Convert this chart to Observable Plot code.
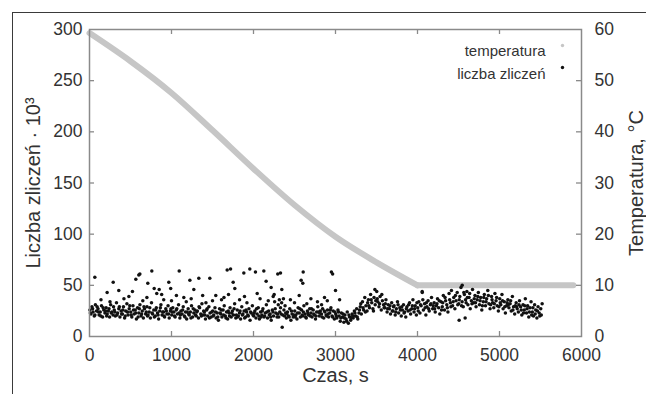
<!DOCTYPE html>
<html>
<head>
<meta charset="utf-8">
<script src="https://cdn.jsdelivr.net/npm/d3@7"></script>
<script src="https://cdn.jsdelivr.net/npm/@observablehq/plot@0.6"></script>
<style>
  html, body { margin: 0; padding: 0; background: #fff; }
  #wrap { position: relative; width: 646px; height: 394px; overflow: hidden; }
  #border { position: absolute; left: 12px; top: 12px; width: 700px; height: 500px;
            border-left: 1.5px solid #3a3a3a; border-top: 1.5px solid #3a3a3a; }
  #chart { position: absolute; left: 0; top: 0; }
  svg { font-family: "Liberation Sans", Arial, sans-serif; overflow: visible; }
</style>
</head>
<body>
<div id="wrap"><div id="border"></div><div id="chart"></div></div>
<script>
// ---- data ----
const xTicks = [0, 1000, 2000, 3000, 4000, 5000, 6000];
const yTicks = [0, 50, 100, 150, 200, 250, 300];
const tempTicks = [0, 10, 20, 30, 40, 50, 60];

// cooling phase, then constant temperature
const czasT = [0, 500, 1000, 1500, 2000, 2500, 3000, 3500, 4000];
const temperatura = [59.3, 53.8, 47.6, 40.3, 32.8, 25.7, 19.5, 14.5, 10];
const czasStala = [4000, 5900];
const temperaturaStala = [10, 10];

// [czas (s), liczba zliczeń (·10^3)]
const zliczenia = [
[5,26],[18,22],[30,29],[44,24],[58,20],[72,31],[86,25],
[104,27],[117,21],[131,24],[146,30],[160,19],[174,26],[188,23],
[203,28],[216,22],[230,25],[245,19],[258,31],[272,24],[287,21],
[302,26],[315,20],[329,33],[343,23],[357,27],[371,19],[385,25],
[401,22],[414,29],[428,18],[442,25],[456,32],[470,21],[484,27],
[503,24],[516,19],[530,30],[544,22],[558,26],[572,17],[586,28],
[602,23],[615,31],[629,20],[643,25],[657,18],[671,27],[685,22],
[701,29],[714,21],[728,24],[742,18],[756,33],[770,22],[784,26],
[802,20],[815,28],[829,23],[843,17],[857,25],[871,31],[885,21],
[903,24],[916,19],[930,27],[944,22],[958,30],[972,18],[986,25],
[1003,21],[1016,28],[1030,24],[1044,19],[1058,26],[1072,22],[1086,31],
[1102,18],[1115,25],[1129,22],[1143,29],[1157,20],[1171,24],[1185,17],
[1203,27],[1216,21],[1230,24],[1244,30],[1258,19],[1272,23],[1286,26],
[1302,20],[1315,25],[1329,18],[1343,28],[1357,22],[1371,32],[1385,21],
[1401,24],[1414,17],[1428,26],[1442,20],[1456,29],[1470,23],[1484,19],
[1503,25],[1516,21],[1530,28],[1544,18],[1558,23],[1572,16],[1586,27],
[1602,22],[1615,19],[1629,26],[1643,30],[1657,20],[1671,24],[1685,17],
[1701,23],[1714,28],[1728,19],[1742,25],[1756,21],[1770,32],[1784,18],
[1802,26],[1815,20],[1829,23],[1843,17],[1857,29],[1871,22],[1885,25],
[1903,19],[1916,24],[1930,21],[1944,27],[1958,16],[1972,23],[1986,30],
[2003,20],[2016,25],[2030,18],[2044,22],[2058,28],[2072,17],[2086,24],
[2102,21],[2115,27],[2129,19],[2143,23],[2157,31],[2171,18],[2185,25],
[2203,22],[2216,16],[2230,26],[2244,20],[2258,34],[2272,23],[2287,19],
[2302,31],[2315,36],[2329,28],[2343,33],[2357,21],[2371,26],[2385,30],[2320,24],[2365,37],
[2401,18],[2414,24],[2428,20],[2442,27],[2456,16],[2470,22],[2484,19],
[2503,25],[2516,21],[2530,17],[2544,28],[2558,23],[2572,19],[2586,26],
[2602,20],[2615,30],[2629,22],[2643,18],[2657,25],[2671,21],[2685,27],
[2701,23],[2714,19],[2728,26],[2742,21],[2756,17],[2770,24],[2784,29],
[2802,20],[2815,25],[2829,22],[2843,27],[2857,18],[2871,24],[2885,21],
[2903,26],[2916,19],[2930,23],[2944,28],[2958,20],[2972,25],[2986,17],
[3003,22],[3016,18],[3030,26],[3044,20],[3058,15],[3072,23],[3086,19],
[3102,14],[3115,21],[3129,17],[3143,24],[3157,13],[3171,19],[3185,16],
[3203,22],[3216,18],[3230,25],[3244,20],[3258,27],[3272,17],[3286,23],
[3302,29],[3315,22],[3329,34],[3343,26],[3357,38],[3371,30],[3385,25],
[3401,36],[3414,28],[3428,41],[3442,33],[3456,27],[3470,38],[3484,31],
[3503,44],[3516,34],[3530,29],[3544,39],[3558,26],[3572,35],[3586,31],
[3602,28],[3615,36],[3629,24],[3643,31],[3657,27],[3671,22],[3685,33],
[3701,25],[3714,30],[3728,21],[3742,27],[3756,34],[3770,23],[3784,28],
[3802,20],[3815,26],[3829,31],[3843,24],[3857,19],[3871,29],[3885,25],
[3903,33],[3916,22],[3930,27],[3944,36],[3958,24],[3972,30],[3986,21],
[4003,28],[4016,34],[4030,23],[4044,30],[4058,43],[4072,26],[4086,32],
[4102,21],[4115,29],[4129,35],[4143,25],[4157,31],[4171,38],[4185,27],
[4203,33],[4216,24],[4230,30],[4244,37],[4258,28],[4272,22],[4287,34],
[4302,29],[4315,40],[4329,26],[4343,35],[4357,31],[4371,24],[4385,42],
[4401,33],[4414,45],[4428,30],[4442,38],[4456,27],[4470,35],[4484,43],
[4503,32],[4516,39],[4530,48],[4544,34],[4558,29],[4572,41],[4586,36],
[4602,44],[4615,31],[4629,38],[4643,27],[4657,35],[4671,46],[4685,33],
[4701,40],[4714,29],[4728,36],[4742,43],[4756,31],[4770,38],[4784,26],
[4802,34],[4815,41],[4829,30],[4843,37],[4857,45],[4871,32],[4885,27],
[4903,39],[4916,33],[4930,28],[4944,42],[4958,35],[4972,30],[4986,25],
[5003,37],[5016,31],[5030,41],[5044,27],[5058,34],[5072,23],[5086,30],
[5102,36],[5115,28],[5129,32],[5143,25],[5157,39],[5171,29],[5185,22],
[5203,33],[5216,27],[5230,24],[5244,35],[5258,29],[5272,21],[5287,31],
[5302,26],[5315,37],[5329,23],[5343,30],[5357,19],[5371,28],[5385,34],
[5401,24],[5414,20],[5428,31],[5442,26],[5456,18],[5470,29],[5484,23],
[5503,27],[5510,21],[5520,32],
[10,23],[38,27],[66,21],[93,29],[110,24],[138,20],[166,28],[195,25],[209,20],[238,27],[265,23],[293,29],[309,24],[336,21],[364,29],[392,22],[407,26],[435,20],[463,24],[491,30],
[509,21],[537,26],[565,23],[593,19],[608,27],[636,22],[664,29],[692,24],[707,20],[735,28],[763,23],[791,19],[808,26],[836,21],[864,28],[892,24],[909,20],[937,25],[965,22],[993,27],
[1009,24],[1037,20],[1065,27],[1093,23],[1108,21],[1136,26],[1164,19],[1192,24],[1209,22],[1237,18],[1265,27],[1293,21],[1308,24],[1336,29],[1364,20],[1392,25],[1407,21],[1435,27],[1463,18],[1491,24],
[1509,20],[1537,24],[1565,19],[1593,23],[1608,26],[1636,21],[1664,18],[1692,25],[1707,20],[1735,23],[1763,27],[1791,21],[1808,19],[1836,25],[1864,21],[1892,18],[1909,26],[1937,20],[1965,24],[1993,21],
[2009,23],[2037,27],[2065,20],[2093,19],[2108,25],[2136,20],[2164,24],[2192,21],[2209,19],[2237,24],[2265,27],[2293,22],[2308,19],[2336,22],[2378,20],[2392,23],[2407,22],[2435,19],[2463,25],[2491,21],
[2509,19],[2537,23],[2565,27],[2593,21],[2608,24],[2636,19],[2664,23],[2692,20],[2707,27],[2735,22],[2763,20],[2791,24],[2808,23],[2836,19],[2864,25],[2892,20],[2909,22],[2937,26],[2965,19],[2993,24],
[3009,20],[3037,24],[3065,18],[3093,22],[3108,18],[3136,15],[3164,21],[3192,18],[3209,20],[3237,23],[3265,19],[3293,26],[3308,32],[3336,28],[3364,24],[3392,33],[3407,30],[3435,36],[3463,25],[3491,35],
[3509,37],[3537,32],[3565,41],[3593,28],[3608,32],[3636,27],[3664,30],[3692,25],[3707,29],[3735,24],[3763,31],[3791,26],[3808,29],[3836,23],[3864,27],[3892,31],[3909,26],[3937,30],[3965,27],[3993,33],
[4009,25],[4037,31],[4065,36],[4093,28],[4108,33],[4136,27],[4164,32],[4192,30],[4209,27],[4237,32],[4265,35],[4293,26],[4308,33],[4336,38],[4364,28],[4392,36],[4407,29],[4435,34],[4463,40],[4491,31],
[4509,36],[4537,30],[4565,43],[4593,33],[4608,38],[4636,42],[4664,32],[4692,37],[4707,33],[4735,39],[4763,35],[4791,30],[4808,38],[4836,34],[4864,40],[4892,31],[4909,36],[4937,32],[4965,38],[4993,29],
[5009,33],[5037,35],[5065,29],[5093,33],[5108,31],[5136,35],[5164,26],[5192,30],[5209,29],[5237,31],[5265,26],[5293,23],[5308,30],[5336,27],[5364,24],[5392,21],[5407,28],[5435,22],[5463,25],[5491,20],
[65,58],[215,43],[289,53],[357,45],[524,44],[565,56],[601,60],[614,61],[711,52],[760,64],
[789,47],[850,46],[880,41],[967,53],[990,47],[1094,64],[1150,38],[1224,55],[1272,46],[1333,57],
[1380,40],[1467,57],[1540,40],[1610,36],[1679,65],[1720,66],[1752,53],[1772,47],[1695,41],[1882,62],
[1890,39],[1955,66],[2024,63],[2045,42],[2126,64],[2154,54],[2215,48],[2240,39],[2252,41],[2296,61],
[2329,62],[2345,46],[2350,9],[2557,40],[2581,55],[2601,52],[2606,63],[2866,38],[2950,63],[2965,61],
[3000,45],[3050,36],[4057,44],[4508,16],[4581,18],[3480,46],[4545,50],
[140,36],[250,34],[420,37],[480,39],[650,35],[700,38],[820,42],[905,36],[1000,35],[1060,40],
[1180,34],[1240,37],[1420,33],[1500,35],[1640,38],[1830,36],[1920,33],[2080,37],[2180,35],[2450,36],
[2500,33],[2650,32],[2700,37],[2780,34],[2830,31],[2900,35]
];

const legendLabels = ["temperatura", "liczba zliczeń"];
const yTitle = "Liczba zliczeń · 10³";
const xTitle = "Czas, s";
const y2Title = "Temperatura, °C";

// ---- build ----
const K = 300 / 60; // temperature -> left-axis units
const tempData = czasT.map((t, i) => ({czas: t, temp: temperatura[i]}));
const tempFlat = czasStala.map((t, i) => ({czas: t, temp: temperaturaStala[i]}));
const countData = zliczenia.map(([t, v]) => ({czas: t, val: v}));

const textColor = "#333";
const axisColor = "#8a8a8a";
const tempColor = "#c6c6c6";
const fmt = d => String(d);

// inward tick lengths (~5 px) expressed in data units of each scale
const xSpan = 6000, ySpan = 300, plotW = 492, plotH = 307, tickPx = 5;
const tx = tickPx * xSpan / plotW, ty = tickPx * ySpan / plotH;
const innerX = xTicks.slice(1, -1);
const innerY = yTicks.slice(1, -1);
const innerT = tempTicks.slice(1, -1).map(t => t * K);

const chart = Plot.plot({
  width: 646,
  height: 394,
  marginLeft: 89,
  marginRight: 65,
  marginTop: 29,
  marginBottom: 58,
  style: {fontFamily: "'Liberation Sans', Arial, sans-serif", color: textColor, background: "transparent"},
  x: {domain: [0, 6000]},
  y: {domain: [0, 300]},
  marks: [
    Plot.line(tempData, {x: "czas", y: d => d.temp * K, stroke: tempColor, strokeWidth: 6, curve: "catmull-rom"}),
    Plot.line(tempFlat, {x: "czas", y: d => d.temp * K, stroke: tempColor, strokeWidth: 6}),
    Plot.dot(countData, {x: "czas", y: "val", r: 1.75, fill: "#111", stroke: null}),
    Plot.frame({stroke: axisColor, strokeWidth: 1.5}),
    // inward ticks
    Plot.ruleX(innerX, {x: d => d, y1: 0, y2: ty, stroke: axisColor, strokeWidth: 1.3}),
    Plot.ruleX(innerX, {x: d => d, y1: 300 - ty, y2: 300, stroke: axisColor, strokeWidth: 1.3}),
    Plot.ruleY(innerY, {y: d => d, x1: 0, x2: tx, stroke: axisColor, strokeWidth: 1.3}),
    Plot.ruleY(innerT, {y: d => d, x1: 6000 - tx, x2: 6000, stroke: axisColor, strokeWidth: 1.3}),
    // tick labels
    Plot.axisX({anchor: "bottom", ticks: xTicks, tickFormat: fmt, tickSize: 0, tickPadding: 12, fontSize: 17.5, label: null}),
    Plot.axisY({anchor: "left", ticks: yTicks, tickFormat: fmt, tickSize: 0, tickPadding: 7, fontSize: 17.5, label: null}),
    Plot.axisY({anchor: "right", ticks: tempTicks.map(t => t * K), tickFormat: d => String(d / K), tickSize: 0, tickPadding: 13, fontSize: 17.5, label: null}),
    // titles
    Plot.text([yTitle], {frameAnchor: "left", textAnchor: "middle", dx: -56, rotate: -90, fontSize: 20, fill: textColor}),
    Plot.text([y2Title], {frameAnchor: "right", textAnchor: "middle", dx: 55, rotate: -90, fontSize: 20, fill: textColor}),
    Plot.text([xTitle], {frameAnchor: "bottom", dy: 45, fontSize: 20, fill: textColor}),
    // legend
    Plot.text([legendLabels[0]], {frameAnchor: "top-right", dx: -36, dy: 16, textAnchor: "end", fontSize: 15, fill: textColor}),
    Plot.text([legendLabels[1]], {frameAnchor: "top-right", dx: -36, dy: 39, textAnchor: "end", fontSize: 15, fill: textColor}),
    Plot.dot([0], {frameAnchor: "top-right", dx: -19, dy: 16, r: 1.7, fill: tempColor, stroke: null}),
    Plot.dot([0], {frameAnchor: "top-right", dx: -19, dy: 38, r: 1.7, fill: "#111", stroke: null})
  ]
});
document.getElementById("chart").appendChild(chart);
</script>
</body>
</html>
